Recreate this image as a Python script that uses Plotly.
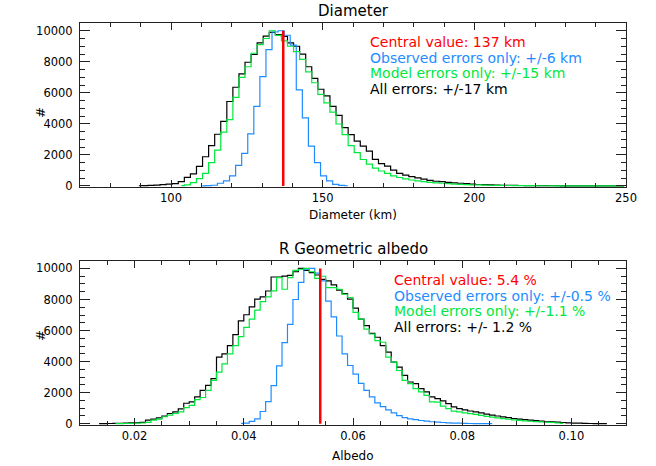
import numpy as np
import plotly.graph_objects as go

# Diameter histograms (km), 2 km bins, counts normalised to a 10000 peak
d_all_start = 89.4
d_all = [10, 20, 30, 50, 80, 110, 150, 280, 555, 770, 1260, 1880, 2600, 3330, 4160, 5440,
         6360, 7220, 7970, 8470, 9220, 9660, 9900, 9750, 9640, 9220, 9000, 8490, 7680, 6930,
         6230, 5800, 5120, 4550, 3750, 3300, 2880, 2560, 2240, 1710, 1430, 1280, 1020, 810,
         700, 600, 520, 430, 360, 300, 270, 230, 190, 170, 150, 110, 90, 80, 60, 50, 40, 35,
         30, 25, 20, 18, 15, 12, 10, 8, 7, 6, 5, 4, 3, 3, 2, 2, 1, 1, 1]
d_model_start = 103.4
d_model = [20, 60, 215, 470, 810, 1500, 2300, 3460, 4270, 5700, 7000, 7680, 8550, 9100, 9500,
           10000, 9700, 9350, 9000, 8650, 8150, 7350, 6650, 5900, 5350, 4750, 3990, 3300, 2600,
           2150, 1700, 1400, 1150, 960, 810, 640, 540, 450, 380, 320, 270, 230, 200, 170, 140,
           120, 100, 85, 70, 60, 50, 40, 35, 30, 25, 20, 18, 15, 12, 10, 9, 8, 7, 6, 5, 4, 4,
           3, 3, 2, 2, 2, 1, 1]
d_obs_start = 110.3
d_obs = [5, 15, 40, 170, 320, 640, 1320, 2090, 3350, 5120, 7040, 8790, 9920, 10000, 9710,
         9070, 6190, 4380, 2560, 1500, 640, 320, 100, 30, 10]
d_central = 137

# Albedo histograms, 0.001 bins
a_all_start = 0.0135
a_all = [5, 10, 15, 20, 30, 40, 55, 70, 85, 235, 300, 385, 490, 660, 770, 960, 1320, 1410,
         1730, 2150, 2470, 2900, 4290, 4500, 5030, 5740, 6630, 7020, 7530, 8020, 8170, 8550,
         9450, 9450, 9510, 9550, 9790, 10000, 9880, 9730, 9580, 9300, 9200, 8940, 8600, 8380,
         8020, 7440, 6740, 6320, 5820, 5570, 5030, 4610, 3970, 3650, 3110, 2690, 2580, 2260,
         2050, 1730, 1620, 1470, 1300, 1090, 980, 900, 820, 760, 700, 620, 560, 500, 440, 390,
         340, 300, 260, 230, 200, 170, 140, 120, 100, 80, 60, 45, 35, 25, 18, 12, 8, 5]
a_model_start = 0.0165
a_model = [5, 10, 15, 25, 35, 50, 85, 230, 300, 450, 560, 660, 770, 1040, 1190, 1560, 1690,
           2150, 2790, 3330, 3860, 4500, 5030, 5610, 6210, 6740, 7320, 7870, 8170, 8560, 9410,
           8660, 9410, 9880, 9950, 10000, 9790, 9360, 9500, 8770, 8770, 8660, 8340, 8130, 7170,
           6740, 6100, 5780, 5350, 5250, 4290, 3970, 3430, 2790, 2580, 2260, 2050, 1830, 1410,
           1390, 1130, 980, 810, 770, 700, 650, 600, 540, 480, 430, 380, 330, 290, 250, 220,
           190, 160, 140, 120, 100, 80, 50, 20]
a_obs_start = 0.0395
a_obs = [20, 40, 150, 320, 790, 1430, 2450, 3730, 5230, 6400, 8000, 9100, 9950, 10000, 9700,
         9200, 7900, 6880, 5650, 4500, 3750, 3200, 2600, 2150, 1730, 1340, 1100, 900, 700, 520,
         400, 320, 260, 210, 170, 130, 100, 80, 60, 45, 35, 25, 18, 12, 8, 5, 3]
a_central = 0.054

top_text = ["Central value: 137 km", "Observed errors only: +/-6 km",
            "Model errors only: +/-15 km", "All errors: +/-17 km"]
bot_text = ["Central value: 5.4 %", "Observed errors only: +/-0.5 %",
            "Model errors only: +/-1.1 %", "All errors: +/- 1.2 %"]

BLACK = "black"
BLUE = "#1e8cff"
GREEN = "#00e83c"
RED = "#ff0000"
FONT = "DejaVu Sans"


def centers(start, width, counts):
    return start + width * np.arange(len(counts))


fig = go.Figure()

for (start, counts, col) in [(d_all_start, d_all, BLACK), (d_obs_start, d_obs, BLUE),
                             (d_model_start, d_model, GREEN)]:
    fig.add_trace(go.Scatter(x=centers(start, 2, counts), y=counts, mode="lines",
                             line=dict(color=col, width=1.2, shape="hvh"),
                             xaxis="x", yaxis="y", showlegend=False))
fig.add_trace(go.Scatter(x=[d_central, d_central], y=[0, 10000], mode="lines",
                         line=dict(color=RED, width=2.5), xaxis="x", yaxis="y", showlegend=False))

for (start, counts, col) in [(a_all_start, a_all, BLACK), (a_obs_start, a_obs, BLUE),
                             (a_model_start, a_model, GREEN)]:
    fig.add_trace(go.Scatter(x=centers(start, 0.001, counts), y=counts, mode="lines",
                             line=dict(color=col, width=1.2, shape="hvh"),
                             xaxis="x2", yaxis="y2", showlegend=False))
fig.add_trace(go.Scatter(x=[a_central, a_central], y=[0, 10000], mode="lines",
                         line=dict(color=RED, width=2.5), xaxis="x2", yaxis="y2", showlegend=False))

axis_common = dict(showline=True, linecolor="#222", linewidth=1, mirror="ticks", ticks="inside",
                   tickcolor="#222", showgrid=False, zeroline=False,
                   tickfont=dict(family=FONT, size=11.5, color="black"))

fig.update_layout(
    width=656, height=466,
    margin=dict(l=80, r=30, t=23, b=41),
    paper_bgcolor="white", plot_bgcolor="white",
    font=dict(family=FONT, color="black"),
    xaxis=dict(domain=[0, 1], anchor="y", range=[70, 250], tick0=0, dtick=50, ticklen=7,
               minor=dict(ticks="inside", ticklen=4, dtick=10, tickcolor="#222"), **axis_common),
    yaxis=dict(domain=[0.5917, 1], anchor="x", range=[-80, 10500], tick0=0, dtick=2000,
               ticklen=10, tickformat="d", ticklabelstandoff=4,
               minor=dict(ticks="inside", ticklen=5, dtick=500, tickcolor="#222"), **axis_common),
    xaxis2=dict(domain=[0, 1], anchor="y2", range=[0.01, 0.11], tick0=0, dtick=0.02, ticklen=7,
                tickformat=".2f",
                minor=dict(ticks="inside", ticklen=4, dtick=0.005, tickcolor="#222"), **axis_common),
    yaxis2=dict(domain=[0, 0.4087], anchor="x2", range=[-80, 10500], tick0=0, dtick=2000,
                ticklen=10, tickformat="d", ticklabelstandoff=4,
                minor=dict(ticks="inside", ticklen=5, dtick=500, tickcolor="#222"), **axis_common),
)

# titles and axis labels
labels = [
    ("Diameter", 0.5, 1.0299, 15),
    ("R Geometric albedo", 0.5, 0.4378, 15),
    ("Diameter (km)", 0.5, 0.5224, 12),
    ("Albedo", 0.5, -0.0771, 12),
]
for text, x, y, size in labels:
    fig.add_annotation(text=text, x=x, y=y, xref="paper", yref="paper", showarrow=False,
                       xanchor="center", yanchor="middle", font=dict(size=size, color="black"))
for y in [0.796, 0.204]:
    fig.add_annotation(text="#", x=-0.0897, y=y, xref="paper", yref="paper", showarrow=False,
                       textangle=-90, font=dict(size=13, color="black"))

colors = [RED, BLUE, GREEN, BLACK]
line_y = [9260, 8240, 7280, 6250]
for text, col, y in zip(top_text, colors, line_y):
    fig.add_annotation(text=text, x=165, y=y, xref="x", yref="y", showarrow=False,
                       xanchor="left", yanchor="middle", font=dict(size=14, color=col))
for text, col, y in zip(bot_text, colors, line_y):
    fig.add_annotation(text=text, x=0.0671, y=y, xref="x2", yref="y2", showarrow=False,
                       xanchor="left", yanchor="middle", font=dict(size=14, color=col))

# page body has an 8px default margin; drop it so the figure fills the window
fig.write_html("out.html", config={"displayModeBar": False},
               post_script="document.body.style.margin='0';")
